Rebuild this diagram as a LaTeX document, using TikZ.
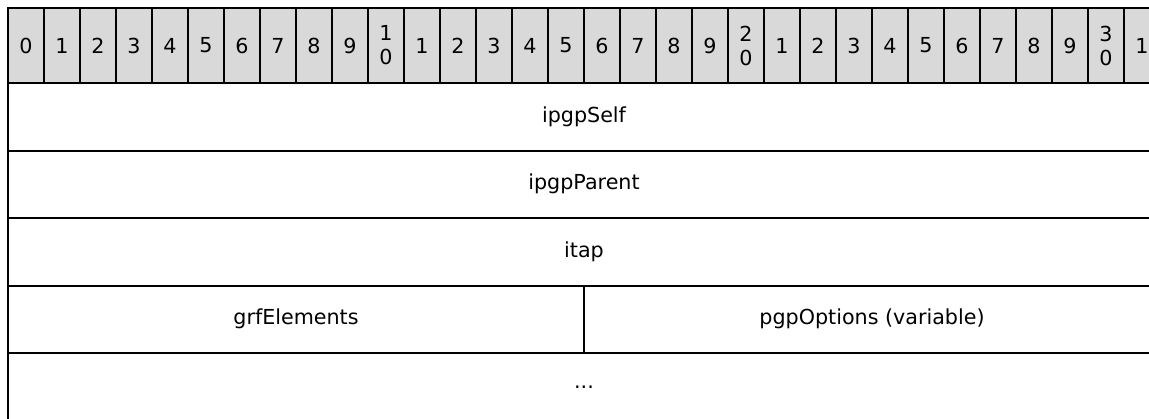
\documentclass[tikz,border=0pt]{standalone}
\usepackage{fontspec}
\setmainfont{DejaVu Sans}
\usetikzlibrary{positioning}

\begin{document}
\begin{tikzpicture}[x=0.75pt,y=0.75pt]
	\tikzstyle{every node}+=[inner sep=0pt,outer sep=0pt,font=\fontsize{15.5}{18}\selectfont]
	\tikzstyle{bitcell}=[draw,line width=1.5pt,fill=gray!30,minimum width=27pt,minimum height=56.25pt,anchor=north west,align=center]
	\tikzstyle{field}=[draw,line width=1.5pt,minimum height=50.625pt]
	\useasboundingbox (0,0) rectangle (1149,-418);
	\clip (0,0) rectangle (1149,-418);
	% bit numbers
	\foreach \i in {0,...,31}{
		\pgfmathtruncatemacro{\ones}{mod(\i,10)}
		\pgfmathtruncatemacro{\tens}{div(\i,10)}
		\ifnum\ones=0 \ifnum\i>0 \def\lbl{\tens\\0}\else\def\lbl{0}\fi\else\def\lbl{\ones}\fi
		\node[bitcell] (bit\i) at (8+36*\i,-8) {\lbl};
	}
	% fields
	\node[field,minimum width=864pt,anchor=north west] (self) at (8,-83) {ipgpSelf};
	\node[field,minimum width=864pt,below=0pt of self] (parent) {ipgpParent};
	\node[field,minimum width=864pt,below=0pt of parent] (itap) {itap};
	\node[field,minimum width=432pt,anchor=north west] (elements) at (itap.south west) {grfElements};
	\node[field,minimum width=432pt,right=0pt of elements] (options) {pgpOptions (variable)};
	\node[field,minimum width=864pt,below=50.625pt of itap] (more) {...};
\end{tikzpicture}
\end{document}
